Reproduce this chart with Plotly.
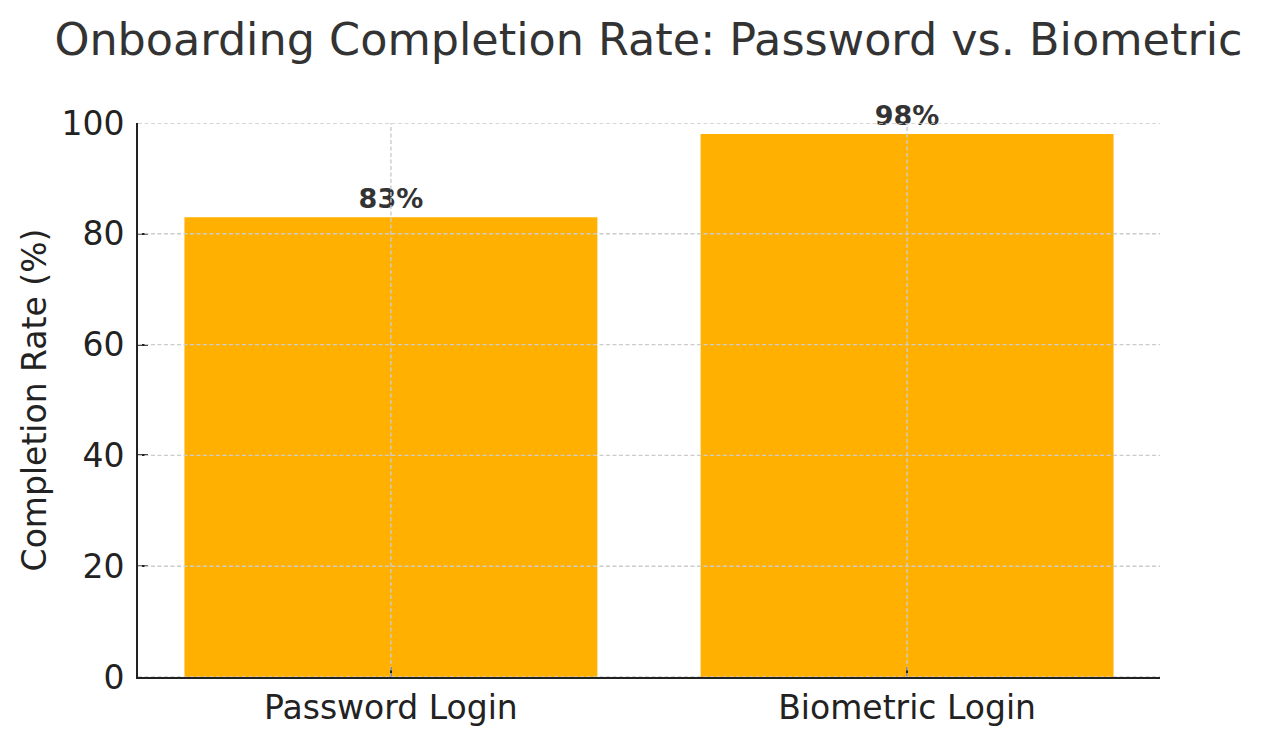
import plotly.graph_objects as go

categories = ["Password Login", "Biometric Login"]
rates = [83, 98]
labels = ["83%", "98%"]
y_ticks = [0, 20, 40, 60, 80, 100]

BAR = "#FFB000"
FONT = "DejaVu Sans"

fig = go.Figure()
fig.add_trace(go.Bar(
    x=categories, y=rates, width=0.8,
    marker=dict(color=BAR, line=dict(width=0)),
    text=labels, textposition="outside",
    textfont=dict(family=FONT, size=27, color="#333333", weight="bold"),
    cliponaxis=False, hoverinfo="skip",
))

shapes = []
grid_line = dict(color="#cccccc", width=1.4, dash="4px,2.5px")
for v in y_ticks:
    shapes.append(dict(type="line", xref="paper", yref="y", x0=0, x1=1, y0=v, y1=v,
                       line=grid_line, layer="above"))
for c in categories:
    shapes.append(dict(type="line", xref="x", yref="paper", x0=c, x1=c, y0=0, y1=1,
                       line=grid_line, layer="above"))

fig.update_layout(
    width=1262, height=740,
    margin=dict(l=130, r=110, t=115, b=71),
    paper_bgcolor="white", plot_bgcolor="white",
    title=dict(text="Onboarding Completion Rate: Password vs. Biometric",
               font=dict(family=FONT, size=44.5, color="#333333"),
               x=0.5075, xanchor="center", y=0.957, yanchor="middle"),
    font=dict(family=FONT, color="#222222"),
    shapes=shapes,
    showlegend=False,
    bargap=0.2,
)
fig.update_xaxes(
    range=[-0.49, 1.49], showgrid=False, showline=True, linecolor="#222222", linewidth=2,
    ticks="inside", ticklen=10, tickwidth=1.5, tickcolor="#222222",
    tickfont=dict(family=FONT, size=33, color="#222222"), layer="above traces",
)
fig.update_yaxes(
    range=[0, 100], tickvals=y_ticks, showgrid=False, showline=True, linecolor="#222222",
    linewidth=2, ticks="inside", ticklen=10, tickwidth=1.5, tickcolor="#222222",
    tickfont=dict(family=FONT, size=33, color="#222222"), zeroline=False,
    ticklabelstandoff=5,
    title=dict(text="Completion Rate (%)", font=dict(family=FONT, size=33, color="#222222"), standoff=5),
    layer="above traces",
)

fig.write_html("out.html")
